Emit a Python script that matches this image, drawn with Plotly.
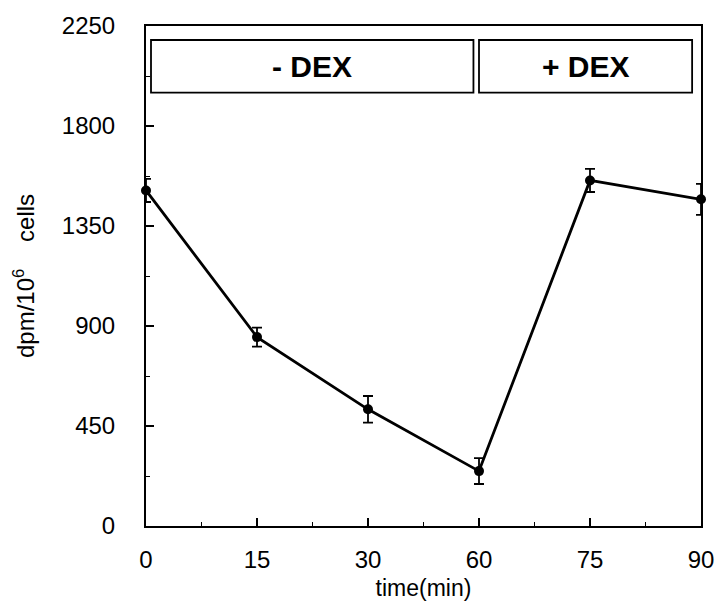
import plotly.graph_objects as go

time_labels = ["0", "15", "30", "60", "75", "90"]
dpm_values = [1510, 850, 525, 247, 1555, 1470]
dpm_errors = [52, 43, 60, 58, 52, 70]
y_ticks = [0, 450, 900, 1350, 1800, 2250]
box_labels = ["- DEX", "+ DEX"]

x_pos = list(range(len(time_labels)))

fig = go.Figure()
fig.add_trace(go.Scatter(
    x=x_pos, y=dpm_values,
    mode="lines+markers",
    line=dict(color="black", width=2.8),
    marker=dict(color="black", size=10),
    error_y=dict(type="data", array=dpm_errors, visible=True,
                 color="black", thickness=1.8, width=5),
    cliponaxis=False,
    showlegend=False,
))

font_main = "Liberation Sans, Arial, sans-serif"

# condition boxes
boxes = [(0.045, 2.95), (3.0, 4.92)]
for (x0, x1), lab in zip(boxes, box_labels):
    fig.add_shape(type="rect", xref="x", yref="y", x0=x0, x1=x1,
                  y0=1950, y1=2187, line=dict(color="black", width=1.8),
                  fillcolor="white", layer="below")
    fig.add_annotation(x=(x0 + x1) / 2, y=2068, xref="x", yref="y",
                       text="<b>" + lab + "</b>", showarrow=False,
                       font=dict(family=font_main, size=30, color="black"))

fig.update_xaxes(
    range=[0, 5], tickmode="array", tickvals=x_pos, ticktext=time_labels,
    ticks="inside", ticklen=8, tickwidth=1.5, tickcolor="black",
    showline=True, linecolor="black", linewidth=2, mirror=True,
    showgrid=False, zeroline=False, ticklabelstandoff=11,
    minor=dict(tickmode="array", tickvals=[0.5, 1.5, 2.5, 3.5, 4.5],
               ticks="inside", ticklen=4, tickwidth=1.2, tickcolor="black"),
    tickfont=dict(family=font_main, size=24, color="black"),
    title=dict(text="time(min)", standoff=8,
               font=dict(family=font_main, size=23, color="black")),
)
fig.update_yaxes(
    range=[0, 2250], tickmode="array", tickvals=y_ticks,
    ticks="inside", ticklen=8, tickwidth=1.5, tickcolor="black",
    showline=True, linecolor="black", linewidth=2, mirror=True,
    showgrid=False, zeroline=False, ticklabelstandoff=24,
    minor=dict(tickmode="array", tickvals=[225, 675, 1125, 1575, 2025],
               ticks="inside", ticklen=4, tickwidth=1.2, tickcolor="black"),
    tickfont=dict(family=font_main, size=24, color="black"),
    title=dict(text="dpm/10<sup>6</sup>    cells", standoff=20,
               font=dict(family=font_main, size=24, color="black")),
)

fig.update_layout(
    width=726, height=609,
    margin=dict(l=146, r=17, t=24, b=77),
    paper_bgcolor="white", plot_bgcolor="white",
)

fig.write_html("out.html", config={"displayModeBar": False},
               post_script="document.body.style.margin='0';")
